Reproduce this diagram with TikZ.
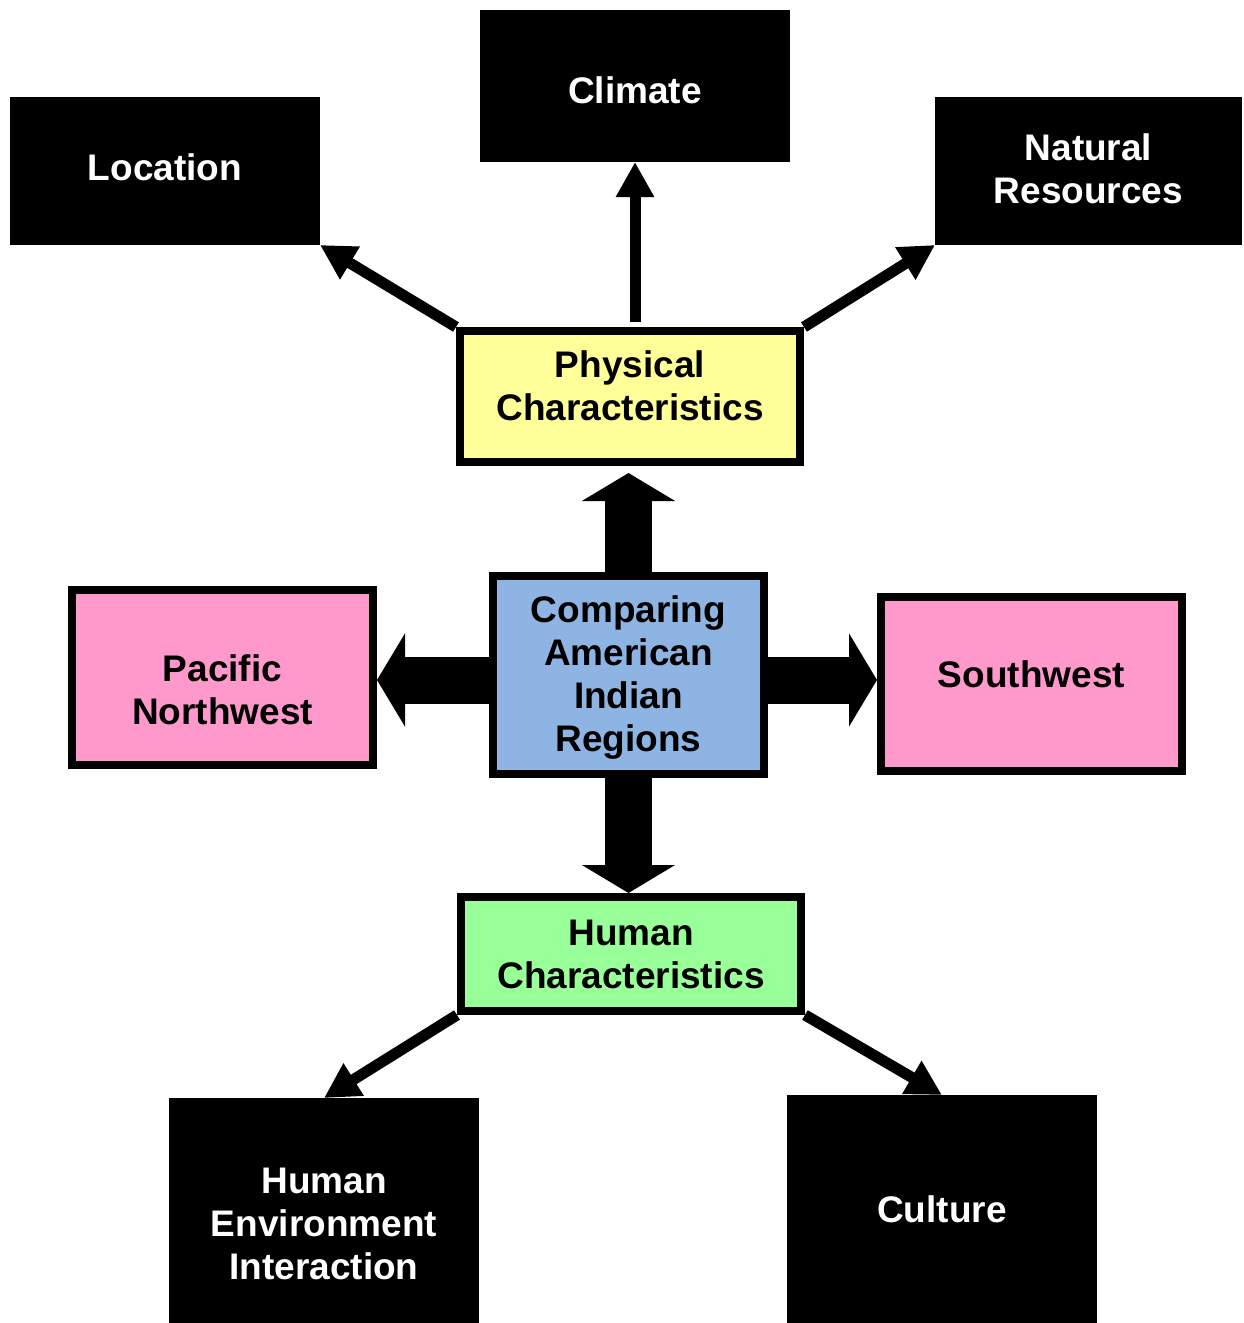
\documentclass[tikz,border=0pt]{standalone}
\usepackage{fontspec}
\setmainfont{Liberation Sans}
\usetikzlibrary{positioning, arrows.meta}

\definecolor{physyellow}{HTML}{FFFF99}
\definecolor{regionblue}{HTML}{8EB4E3}
\definecolor{regionpink}{HTML}{FF99CC}
\definecolor{humangreen}{HTML}{99FF99}

\begin{document}
\begin{tikzpicture}[x=1pt, y=-1pt,
    font=\fontsize{37}{43}\selectfont\bfseries,
    topic/.style={fill=black, inner sep=0pt, outer sep=0pt},
    frame/.style={draw=black, line width=8pt, inner sep=0pt},
    boxtext/.style={align=center, inner sep=0pt},
    whitetext/.style={boxtext, text=white},
    thin/.style={line width=11pt, -{Triangle[length=35pt, width=36pt]}},
    block/.style={line width=47pt, -{Triangle[length=28pt, width=92pt]}}]
            \useasboundingbox (0,0) rectangle (1243,1323);

            % outer boxes
            \node[topic, minimum width=310pt, minimum height=148pt,
                  label={[whitetext, yshift=4pt]center:Location}] (loc) at (165,171) {};
            \node[topic, minimum width=310pt, minimum height=152pt,
                  label={[whitetext, yshift=-4pt]center:Climate}] (clim) at (635,86) {};
            \node[topic, minimum width=307pt, minimum height=148pt,
                  label={[whitetext, yshift=2pt]center:Natural\\Resources}] (res) at (1088.5,171) {};
            \node[topic, minimum width=310pt, minimum height=225pt,
                  label={[whitetext, yshift=-13pt]center:Human\\Environment\\Interaction}] (env) at (324,1210.5) {};
            \node[topic, minimum width=310pt, minimum height=228pt,
                  label={[whitetext]center:Culture}] (cult) at (942,1209) {};

            % framed boxes
            \node[frame, fill=physyellow, minimum width=340pt, minimum height=131pt,
                  label={[boxtext, yshift=11pt]center:Physical\\Characteristics}] (phys) at (630,396.5) {};
            \node[frame, fill=regionblue, minimum width=271pt, minimum height=198pt,
                  label={[boxtext, yshift=-3pt]center:Comparing\\American\\Indian\\Regions}] (comp) at (628.5,675) {};
            \node[frame, fill=regionpink, minimum width=301pt, minimum height=175pt,
                  label={[boxtext, yshift=-12pt]center:Pacific\\Northwest}] (pnw) at (222.5,677.5) {};
            \node[frame, fill=regionpink, minimum width=301pt, minimum height=174pt,
                  label={[boxtext, yshift=10pt]center:Southwest}] (sw) at (1031.5,684) {};
            \node[frame, fill=humangreen, minimum width=340pt, minimum height=114pt,
                  label={[boxtext]center:Human\\Characteristics}] (human) at (631,954) {};

            \draw[block, shorten >=7pt] (comp.north) -- (comp.north |- phys.south);
            \draw[block] (comp.south) -- (comp.south |- human.north);
            \draw[block] ([yshift=-5pt]comp.west) -- ([yshift=-5pt]comp.west -| pnw.east);
            \draw[block] ([yshift=-5pt]comp.east) -- ([yshift=-5pt]comp.east -| sw.west);

            \draw[thin] (phys.north west) -- (loc.south east);
            \draw[thin, shorten <=5pt] (clim.south |- phys.north) -- (clim.south);
            \draw[thin] (phys.north east) -- (res.south west);
            \draw[thin] (human.south west) -- (env.north);
            \draw[thin] (human.south east) -- (cult.north);
          \end{tikzpicture}
\end{document}
